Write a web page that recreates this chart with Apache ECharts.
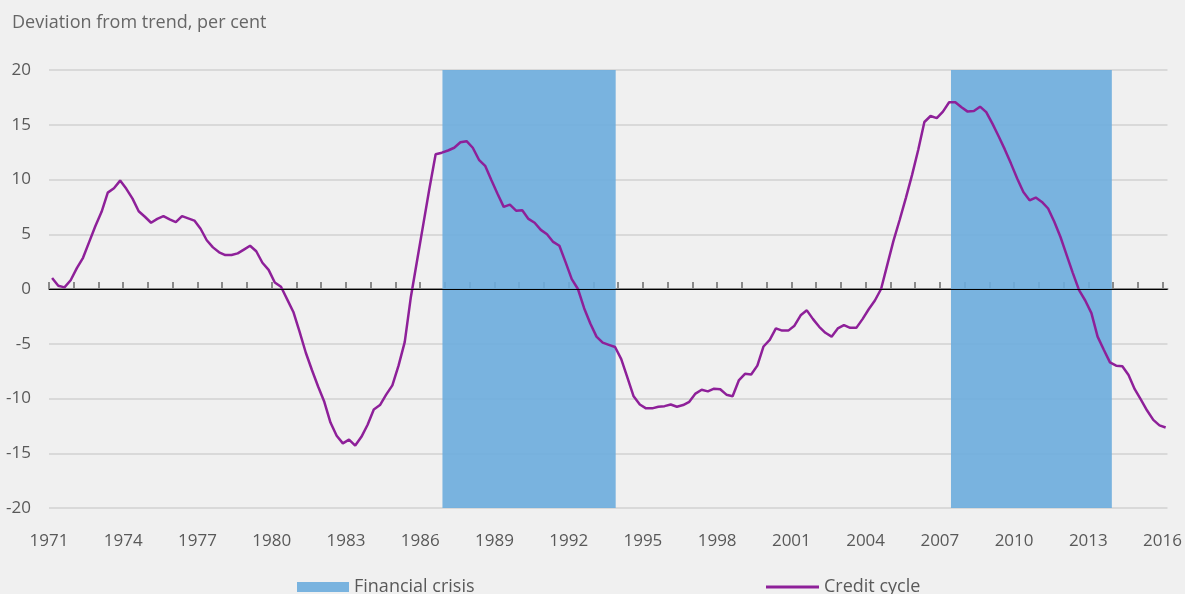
<!DOCTYPE html>
<html>
<head>
<meta charset="utf-8">
<script src="https://cdn.jsdelivr.net/npm/echarts@6/dist/echarts.min.js"></script>
<style>
  html, body { margin: 0; padding: 0; background: #f0f0f0; }
  #myChart { width: 1185px; height: 594px; }
</style>
</head>
<body>
<div id="myChart"></div>
<script>
// quarterly credit cycle, first quarter 1971Q1
var startYear = 1971;
var creditCycle = [
  1.0, 0.3, 0.15, 0.8, 1.9, 2.85, 4.3, 5.75, 7.05, 8.8, 9.2, 9.9,
  9.15, 8.25, 7.1, 6.6, 6.05, 6.4, 6.65, 6.35, 6.1, 6.65, 6.45, 6.25,
  5.5, 4.45, 3.8, 3.35, 3.1, 3.1, 3.25, 3.6, 3.95, 3.45, 2.4, 1.75,
  0.6, 0.2, -0.95, -2.1, -3.9, -5.8, -7.4, -8.9, -10.3, -12.2, -13.4, -14.1,
  -13.75, -14.3, -13.5, -12.4, -11.0, -10.6, -9.65, -8.8, -7.0, -4.85, -0.7, 2.6,
  5.9, 9.2, 12.3, 12.45, 12.65, 12.9, 13.4, 13.5, 12.9, 11.8, 11.25, 9.95,
  8.7, 7.5, 7.7, 7.15, 7.2, 6.4, 6.05, 5.4, 5.0, 4.3, 3.95, 2.45,
  0.9, 0.0, -1.75, -3.15, -4.35, -4.9, -5.1, -5.3, -6.4, -8.1, -9.8, -10.55,
  -10.9, -10.9, -10.75, -10.7, -10.55, -10.75, -10.6, -10.3, -9.55, -9.2, -9.35, -9.1,
  -9.15, -9.65, -9.8, -8.35, -7.75, -7.8, -7.0, -5.25, -4.65, -3.6, -3.8, -3.8,
  -3.35, -2.4, -1.95, -2.75, -3.45, -4.0, -4.35, -3.6, -3.3, -3.55, -3.55, -2.75,
  -1.85, -1.05, 0.0, 2.2, 4.4, 6.3, 8.3, 10.4, 12.7, 15.25, 15.8, 15.6,
  16.2, 17.05, 17.05, 16.6, 16.2, 16.25, 16.65, 16.15, 15.1, 13.95, 12.75, 11.45,
  10.1, 8.85, 8.1, 8.35, 7.95, 7.35, 6.15, 4.75, 3.1, 1.45, -0.1, -1.05,
  -2.2, -4.35, -5.55, -6.7, -7.0, -7.05, -7.85, -9.15, -10.1, -11.1, -11.95, -12.45, -12.65
];
// financial crisis periods [start, end] in years
var crisisPeriods = [
  [1986.9, 1993.9],
  [2007.45, 2013.95]
];
var tickYears = [];
for (var y = 1971; y <= 2016; y++) tickYears.push(y);
var labelYears = [1971, 1974, 1977, 1980, 1983, 1986, 1989, 1992, 1995, 1998, 2001, 2004, 2007, 2010, 2013, 2016];
var yMin = -20, yMax = 20, yStep = 5;

// quarter midpoints as decimal years
var lineData = creditCycle.map(function (v, i) {
  return [startYear + (i + 0.5) / 4, v];
});

var textColor = "#595959";
var fontFamily = "'Open Sans', sans-serif";
var bandColor = "rgba(107,172,221,0.9)";
var lineColor = "#8e2099";

var option = {
  backgroundColor: "#f0f0f0",
  animation: false,
  textStyle: { fontFamily: fontFamily },
  title: {
    text: "Deviation from trend, per cent",
    left: 12,
    top: 14,
    padding: 0,
    textStyle: { fontSize: 18, fontWeight: "normal", color: "#666", fontFamily: fontFamily }
  },
  legend: [
    {
      left: 297,
      top: 578,
      padding: 0,
      itemWidth: 52,
      itemHeight: 10,
      data: [{ name: "Financial crisis", icon: "rect" }],
      textStyle: { fontSize: 18, color: textColor, fontFamily: fontFamily }
    },
    {
      left: 766,
      top: 578,
      padding: 0,
      itemWidth: 53,
      itemHeight: 3,
      data: [{ name: "Credit cycle", icon: "rect" }],
      textStyle: { fontSize: 18, color: textColor, fontFamily: fontFamily }
    }
  ],
  grid: { left: 49, right: 13, top: 70, bottom: 86 },
  xAxis: {
    type: "value",
    min: 1971,
    max: 2016.2,
    interval: 1,
    splitLine: { show: false },
    axisLine: { show: true, lineStyle: { color: "#8a8a8a", width: 2 } },
    axisTick: {
      show: true,
      inside: true,
      length: 7,
      customValues: tickYears,
      lineStyle: { color: "#8a8a8a", width: 2 }
    },
    axisLabel: {
      customValues: labelYears,
      margin: 25,
      fontSize: 17,
      color: textColor,
      formatter: function (v) { return String(v); }
    }
  },
  yAxis: {
    type: "value",
    min: yMin,
    max: yMax,
    interval: yStep,
    axisLine: { show: false },
    axisTick: { show: false },
    axisLabel: { margin: 18, fontSize: 17, color: textColor },
    splitLine: { lineStyle: { color: "#d2d2d2", width: 1.5 } }
  },
  series: [
    {
      name: "Financial crisis",
      type: "custom",
      itemStyle: { color: bandColor },
      encode: { x: [0, 1] },
      data: crisisPeriods,
      renderItem: function (params, api) {
        var p0 = api.coord([api.value(0), yMax]);
        var p1 = api.coord([api.value(1), yMin]);
        return {
          type: "rect",
          shape: { x: p0[0], y: p0[1], width: p1[0] - p0[0], height: p1[1] - p0[1] },
          style: { fill: bandColor }
        };
      },
      z: 1
    },
    {
      name: "Credit cycle",
      type: "line",
      data: lineData,
      symbol: "none",
      color: lineColor,
      lineStyle: { color: lineColor, width: 2.5 },
      z: 3,
      markLine: {
        silent: true,
        symbol: "none",
        label: { show: false },
        lineStyle: { color: "#000", width: 1.2, type: "solid" },
        data: [{ yAxis: 0 }]
      }
    }
  ]
};

var myChart = echarts.init(document.getElementById("myChart"));
myChart.setOption(option);
</script>
</body>
</html>
